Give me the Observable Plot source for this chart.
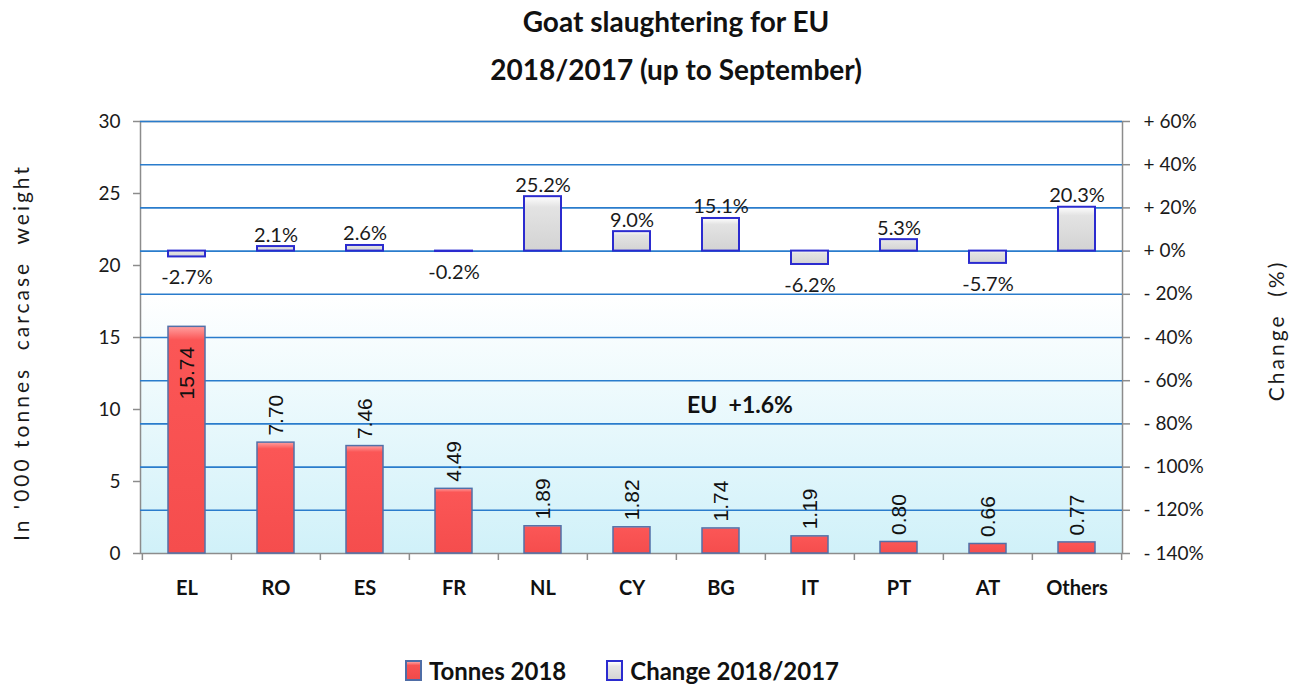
<!DOCTYPE html>
<html>
<head>
<meta charset="utf-8">
<script src="https://cdn.jsdelivr.net/npm/d3@7"></script>
<script src="https://cdn.jsdelivr.net/npm/@observablehq/plot@0.6"></script>
<style>
  html, body { margin: 0; padding: 0; background: #ffffff; }
  #wrap { position: relative; width: 1300px; height: 684px; overflow: hidden; font-family: Lato, "Open Sans", sans-serif; }
  #chart { position: absolute; left: 0; top: 0; }
  #title { position: absolute; left: 276px; width: 800px; top: -3px; text-align: center; font-weight: bold; font-size: 28px; line-height: 48px; color: #111; }
  #legend { position: absolute; left: 405px; top: 656px; display: flex; align-items: center; font-weight: bold; font-size: 24px; line-height: 29px; color: #111; }
  .sw { display: inline-block; width: 13px; height: 17px; margin-right: 7px; }
  .sw.red { background: linear-gradient(#ff9c9c, #f95353 20%, #f04a4a); border: 2px solid #4f6da6; }
  .sw.gray { background: linear-gradient(#ffffff, #e6e6e6 25%, #d4d4d4); border: 2px solid #2b2bcf; }
</style>
</head>
<body>
<div id="wrap">
  <div id="chart"></div>
  <div id="title"></div>
  <div id="legend"></div>
</div>
<script>
// ---- data ----
const categories = ["EL", "RO", "ES", "FR", "NL", "CY", "BG", "IT", "PT", "AT", "Others"];
const tonnes2018 = [15.74, 7.70, 7.46, 4.49, 1.89, 1.82, 1.74, 1.19, 0.80, 0.66, 0.77];
const change2018vs2017 = [-2.7, 2.1, 2.6, -0.2, 25.2, 9.0, 15.1, -6.2, 5.3, -5.7, 20.3];
const tonnesTicks = [0, 5, 10, 15, 20, 25, 30];
const changeTicks = [-140, -120, -100, -80, -60, -40, -20, 0, 20, 40, 60];
const euTotalChange = 1.6;
const seriesNames = ["Tonnes 2018", "Change 2018/2017"];
const titleLines = ["Goat slaughtering for EU", "2018/2017 (up to September)"];
const yTitle = "In '000 tonnes\u00a0 carcase\u00a0 weight";
const y2Title = "Change\u00a0 (%)";

// ---- build ----
const rows = categories.map((c, i) => ({cat: c, tonnes: tonnes2018[i], change: change2018vs2017[i]}));
const tonMax = tonnesTicks[tonnesTicks.length - 1];
const chgMin = changeTicks[0], chgMax = changeTicks[changeTicks.length - 1];
const toY = p => (p - chgMin) / (chgMax - chgMin) * tonMax;      // change (%) -> left-axis units
const fromY = t => t / tonMax * (chgMax - chgMin) + chgMin;
const fmtTick = p => (p >= 0 ? "+ " : "- ") + Math.abs(p) + "%";

const W = 1300, H = 620, mL = 140, mR = 178, mT = 121, mB = 67;
const step = (W - mL - mR) / categories.length;
const grid = "#2a7ccc", axisGray = "#8c8c8c";

const chart = Plot.plot({
  width: W, height: H,
  marginLeft: mL, marginRight: mR, marginTop: mT, marginBottom: mB,
  style: {fontFamily: "Lato, 'Open Sans', sans-serif", fontSize: "19px", color: "#1a1a1a", background: "transparent"},
  x: {domain: categories, paddingInner: 0.585, paddingOuter: 0.2925, axis: null},
  y: {domain: [0, tonMax], axis: null},
  marks: [
    Plot.frame({fill: "url(#plotBg)", stroke: null}),
    Plot.frame({stroke: axisGray, strokeWidth: 1.5}),
    Plot.ruleY(changeTicks.filter(t => t > chgMin), {y: toY, stroke: grid, strokeWidth: 1.6}),
    Plot.ruleX(categories, {x: d => d, dx: -step / 2, y1: 0, y2: 0, insetBottom: -7, stroke: axisGray, strokeWidth: 1.5}),
    Plot.ruleX(categories.slice(-1), {x: d => d, dx: step / 2, y1: 0, y2: 0, insetBottom: -7, stroke: axisGray, strokeWidth: 1.5}),
    Plot.barY(rows, {x: "cat", y: "tonnes", fill: "url(#redGrad)", stroke: "#5270a8", strokeWidth: 1.5}),
    Plot.barY(rows, {x: "cat", y1: () => toY(0), y2: d => toY(d.change), fill: "url(#grayGrad)", stroke: "#2b2bcf", strokeWidth: 2}),
    // tonnes labels (rotated)
    Plot.text(rows, {filter: d => d.tonnes < 12, x: "cat", y: "tonnes", text: d => d.tonnes.toFixed(2),
      rotate: -90, textAnchor: "start", lineAnchor: "middle", dy: -7,
      fontFamily: "'Liberation Sans', Arial, sans-serif", fontSize: 21, fill: "#111"}),
    Plot.text(rows, {filter: d => d.tonnes >= 12, x: "cat", y: "tonnes", text: d => d.tonnes.toFixed(2),
      rotate: -90, textAnchor: "end", lineAnchor: "middle", dy: 20,
      fontFamily: "'Liberation Sans', Arial, sans-serif", fontSize: 21, fill: "#111"}),
    // change labels
    Plot.text(rows, {filter: d => d.change >= 0, x: "cat", y: d => toY(d.change), text: d => d.change.toFixed(1) + "%",
      lineAnchor: "bottom", dy: -5, fontSize: 20, fill: "#1a1a1a"}),
    Plot.text(rows, {filter: d => d.change < 0, x: "cat", y: d => toY(d.change), text: d => d.change.toFixed(1) + "%",
      lineAnchor: "top", dy: 13, fontSize: 20, fill: "#1a1a1a"}),
    // EU total annotation
    Plot.text([{cat: "BG", label: "EU\u00a0 +" + euTotalChange.toFixed(1) + "%"}],
      {x: "cat", y: () => 10.3, dx: 19, text: "label", fontWeight: "bold", fontSize: 23, fill: "#111"}),
    // axes
    Plot.axisY({ticks: tonnesTicks, anchor: "left", tickSize: 7, tickPadding: 13, tickFormat: d => String(d), label: null, stroke: axisGray, strokeWidth: 1.5, fontSize: 19, fill: "#1a1a1a"}),
    Plot.axisY({ticks: changeTicks.map(toY), anchor: "right", tickSize: 7, tickPadding: 14,
      tickFormat: t => fmtTick(Math.round(fromY(t))), label: null, stroke: axisGray, strokeWidth: 1.5, fontSize: 19, fill: "#1a1a1a"}),
    Plot.axisX({tickSize: 0, tickPadding: 27, label: null, fontWeight: "bold", fontSize: 20, fill: "#111"}),
    // axis titles
    Plot.text([yTitle], {frameAnchor: "left", text: d => d, rotate: -90, textAnchor: "middle", lineAnchor: "middle",
      dx: -118, dy: 15, fontSize: 21, fill: "#1a1a1a", ariaLabel: "ytitle"}),
    Plot.text([y2Title], {frameAnchor: "right", text: d => d, rotate: -90, textAnchor: "middle", lineAnchor: "middle",
      dx: 155, dy: -7, fontSize: 21, fill: "#1a1a1a", ariaLabel: "y2title"})
  ]
});

d3.select(chart).insert("defs", ":first-child").html(`
  <linearGradient id="plotBg" x1="0" y1="0" x2="0" y2="1">
    <stop offset="0" stop-color="#ffffff"/>
    <stop offset="0.4" stop-color="#ffffff"/>
    <stop offset="1" stop-color="#d0f1f9"/>
  </linearGradient>
  <linearGradient id="redGrad" x1="0" y1="0" x2="0" y2="1">
    <stop offset="0" stop-color="#ffa0a0"/>
    <stop offset="0.06" stop-color="#fb5656"/>
    <stop offset="1" stop-color="#f54d4d"/>
  </linearGradient>
  <linearGradient id="grayGrad" x1="0" y1="0" x2="0" y2="1">
    <stop offset="0" stop-color="#ffffff"/>
    <stop offset="0.2" stop-color="#e3e3e3"/>
    <stop offset="1" stop-color="#d3d3d3"/>
  </linearGradient>`);

// letter-spaced axis titles
d3.select(chart).selectAll("text")
  .filter(function() { return this.textContent === yTitle || this.textContent === y2Title; })
  .attr("letter-spacing", "3px");

document.getElementById("chart").appendChild(chart);
document.getElementById("title").innerHTML = titleLines.map(t => `<div>${t}</div>`).join("");
document.getElementById("legend").innerHTML =
  `<span class="sw red"></span><span>${seriesNames[0]}</span>` +
  `<span style="display:inline-block;width:40px"></span>` +
  `<span class="sw gray"></span><span>${seriesNames[1]}</span>`;
</script>
</body>
</html>
